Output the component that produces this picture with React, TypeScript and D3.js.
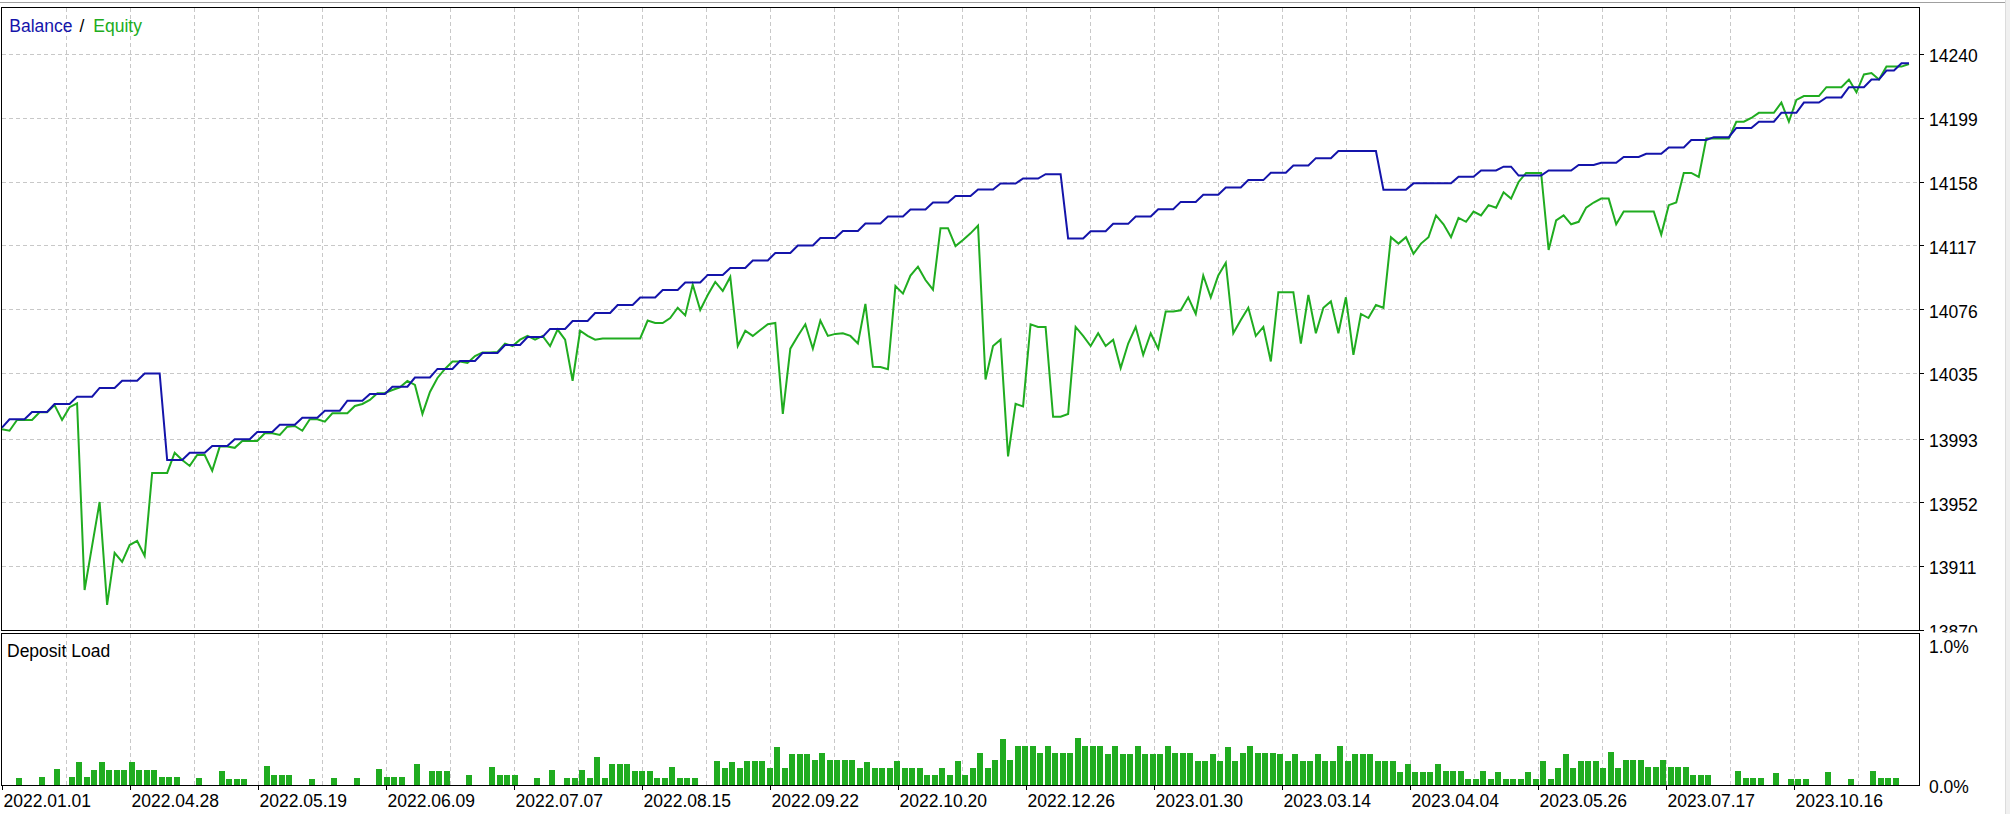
import React from 'react';
import * as d3 from 'd3';

// Balance per deal (account currency)
const balance: number[] = [
  14000, 14005.4, 14005.4, 14005.4, 14010, 14010, 14010, 14015.2, 14015.2, 14015.2,
  14019.9, 14019.9, 14019.9, 14025.5, 14025.5, 14025.5, 14030.1, 14030.1, 14030.1, 14034.8,
  14034.8, 14034.8, 13979.2, 13979.2, 13979.2, 13983.9, 13983.9, 13983.9, 13988.2, 13988.2,
  13988.2, 13992.5, 13992.5, 13992.5, 13997.2, 13997.2, 13997.2, 14001.9, 14001.9, 14001.9,
  14006.4, 14006.4, 14006.4, 14010.9, 14010.9, 14010.9, 14017.3, 14017.3, 14017.3, 14021.6,
  14021.6, 14021.6, 14026.3, 14026.3, 14026.3, 14032.2, 14032.2, 14032.2, 14037.7, 14037.7,
  14037.7, 14042.8, 14042.8, 14042.8, 14047.9, 14047.9, 14047.9, 14053.1, 14053.1, 14053.1,
  14058.2, 14058.2, 14058.2, 14063.4, 14063.4, 14063.4, 14068.5, 14068.5, 14068.5, 14073.6,
  14073.6, 14073.6, 14078.8, 14078.8, 14078.8, 14083.6, 14083.6, 14083.6, 14088.4, 14088.4,
  14088.4, 14093.2, 14093.2, 14093.2, 14098.1, 14098.1, 14098.1, 14102.5, 14102.5, 14102.5,
  14107.4, 14107.4, 14107.4, 14112.2, 14112.2, 14112.2, 14117, 14117, 14117, 14121.8,
  14121.8, 14121.8, 14126.3, 14126.3, 14126.3, 14131.1, 14131.1, 14131.1, 14135.6, 14135.6,
  14135.6, 14140.1, 14140.1, 14140.1, 14144.6, 14144.6, 14144.6, 14148.8, 14148.8, 14148.8,
  14153, 14153, 14153, 14156.8, 14156.8, 14156.8, 14160, 14160, 14160, 14162.8,
  14162.8, 14162.8, 14121.5, 14121.5, 14121.5, 14126.2, 14126.2, 14126.2, 14130.9, 14130.9,
  14130.9, 14135.6, 14135.6, 14135.6, 14140.3, 14140.3, 14140.3, 14145, 14145, 14145,
  14149.6, 14149.6, 14149.6, 14154.3, 14154.3, 14154.3, 14159, 14159, 14159, 14163.7,
  14163.7, 14163.7, 14168.4, 14168.4, 14168.4, 14173.1, 14173.1, 14173.1, 14177.7, 14177.7,
  14177.7, 14177.7, 14177.7, 14177.7, 14152.8, 14152.8, 14152.8, 14152.8, 14156.9, 14156.9,
  14156.9, 14156.9, 14156.9, 14156.9, 14161.1, 14161.1, 14161.1, 14165.2, 14165.2, 14165.2,
  14167.6, 14167.6, 14161.9, 14161.9, 14161.9, 14161.9, 14165.2, 14165.2, 14165.2, 14165.2,
  14168.7, 14168.7, 14168.7, 14170.1, 14170.1, 14170.1, 14173.9, 14173.9, 14173.9, 14175.9,
  14175.9, 14175.9, 14180, 14180, 14180, 14184.8, 14184.8, 14184.8, 14186.6, 14186.6,
  14186.6, 14192.5, 14192.5, 14192.5, 14196.5, 14196.5, 14196.5, 14202.2, 14202.2, 14202.2,
  14208.8, 14208.8, 14208.8, 14212.1, 14212.1, 14212.1, 14218.7, 14218.7, 14218.7, 14223.6,
  14223.6, 14229.4, 14229.4, 14234, 14234,
];

// Equity per deal
const equity: number[] = [
  13998.9, 13998.0, 14004.9, 14004.9, 14004.9, 14009.8, 14009.8, 14014.5, 14004.9, 14013.1,
  14015.6, 13895.7, 13924.0, 13952.2, 13886.1, 13919.5, 13913.7, 13924.6, 13927.2, 13917.6,
  13970.9, 13970.9, 13970.9, 13983.9, 13979.2, 13975.4, 13982.4, 13982.4, 13972.3, 13987.8,
  13987.8, 13987.0, 13991.4, 13991.4, 13991.4, 13996.4, 13996.4, 13995.3, 14000.6, 14001.1,
  13998.0, 14005.4, 14005.4, 14003.8, 14009.2, 14009.2, 14009.2, 14013.9, 14015.2, 14017.8,
  14022.1, 14022.3, 14024.2, 14025.9, 14030.0, 14027.4, 14008.8, 14022.9, 14031.9, 14037.7,
  14042.5, 14042.5, 14041.5, 14046.0, 14048.3, 14048.3, 14048.6, 14054.0, 14052.4, 14056.5,
  14058.9, 14056.5, 14058.9, 14052.4, 14063.0, 14056.5, 14030.1, 14062.2, 14058.9, 14056.5,
  14057.3, 14057.3, 14057.3, 14057.3, 14057.3, 14057.3, 14068.8, 14067.2, 14067.2, 14070.4,
  14077.0, 14072.1, 14091.9, 14075.6, 14085.2, 14093.6, 14087.8, 14096.8, 14052.4, 14062.2,
  14058.9, 14062.7, 14066.4, 14067.2, 14008.8, 14050.7, 14058.9, 14066.4, 14050.7, 14068.8,
  14058.9, 14060.2, 14060.6, 14058.9, 14054.0, 14079.5, 14039.1, 14038.9, 14037.5, 14091.0,
  14086.1, 14097.7, 14103.4, 14094.8, 14088.6, 14128.1, 14128.1, 14116.6, 14120.5, 14124.8,
  14129.8, 14030.9, 14052.4, 14056.5, 13981.5, 14015.3, 14013.6, 14066.4, 14064.7, 14064.7,
  14007.0, 14007.0, 14008.8, 14064.7, 14058.9, 14052.4, 14060.6, 14052.4, 14056.5, 14038.3,
  14054.0, 14064.7, 14046.7, 14060.6, 14050.7, 14074.6, 14074.6, 14075.4, 14083.7, 14073.0,
  14097.7, 14083.7, 14097.7, 14105.9, 14060.6, 14069.1, 14077.0, 14058.9, 14064.7, 14042.5,
  14087.0, 14087.0, 14087.0, 14054.0, 14085.3, 14060.6, 14077.0, 14081.1, 14060.6, 14083.7,
  14046.7, 14073.0, 14070.4, 14078.8, 14077.0, 14122.3, 14118.2, 14122.3, 14111.7, 14118.2,
  14122.3, 14136.3, 14130.6, 14122.3, 14134.7, 14132.2, 14138.8, 14136.3, 14142.9, 14141.3,
  14151.2, 14147.1, 14157.8, 14163.6, 14163.6, 14163.6, 14114.1, 14133.1, 14136.3, 14130.6,
  14132.2, 14141.3, 14144.6, 14147.1, 14147.1, 14130.6, 14138.8, 14138.8, 14138.8, 14138.8,
  14138.8, 14124.0, 14142.9, 14144.6, 14163.6, 14163.6, 14161.0, 14185.7, 14185.7, 14185.7,
  14185.7, 14196.5, 14196.5, 14198.9, 14202.2, 14202.2, 14202.2, 14208.8, 14196.5, 14210.5,
  14213.0, 14213.0, 14213.0, 14218.7, 14218.7, 14218.7, 14223.6, 14215.4, 14226.9, 14227.8,
  14223.6, 14231.9, 14231.9, 14231.9, 14233.6,
];

// Deposit load per deal, percent
const depositLoad: number[] = [
  0, 0, 0.05, 0, 0, 0.056, 0, 0.11, 0, 0.056,
  0.157, 0.056, 0.101, 0.157, 0.101, 0.101, 0.101, 0.157, 0.101, 0.101,
  0.101, 0.056, 0.056, 0.056, 0, 0, 0.05, 0, 0, 0.095,
  0.043, 0.043, 0.043, 0, 0, 0.13, 0.068, 0.068, 0.068, 0,
  0, 0.043, 0, 0, 0.05, 0, 0, 0.05, 0, 0,
  0.11, 0.056, 0.056, 0.056, 0, 0.144, 0, 0.095, 0.095, 0.095,
  0, 0, 0.068, 0, 0, 0.122, 0.068, 0.068, 0.068, 0,
  0, 0.05, 0, 0.101, 0, 0.05, 0.05, 0.101, 0.05, 0.191,
  0.05, 0.144, 0.144, 0.144, 0.095, 0.095, 0.095, 0.05, 0.05, 0.122,
  0.05, 0.05, 0.05, 0, 0, 0.162, 0.117, 0.155, 0.117, 0.162,
  0.162, 0.162, 0.117, 0.257, 0.117, 0.209, 0.209, 0.209, 0.169, 0.216,
  0.169, 0.169, 0.169, 0.169, 0.117, 0.155, 0.117, 0.117, 0.117, 0.162,
  0.117, 0.117, 0.117, 0.068, 0.068, 0.117, 0.068, 0.162, 0.068, 0.117,
  0.216, 0.117, 0.169, 0.311, 0.169, 0.264, 0.264, 0.264, 0.216, 0.264,
  0.216, 0.216, 0.216, 0.318, 0.264, 0.264, 0.264, 0.209, 0.264, 0.209,
  0.209, 0.264, 0.209, 0.209, 0.209, 0.264, 0.216, 0.216, 0.216, 0.162,
  0.162, 0.209, 0.162, 0.257, 0.162, 0.216, 0.264, 0.216, 0.216, 0.216,
  0.209, 0.162, 0.209, 0.162, 0.162, 0.209, 0.162, 0.162, 0.264, 0.162,
  0.209, 0.209, 0.209, 0.162, 0.162, 0.162, 0.09, 0.142, 0.088, 0.088,
  0.088, 0.142, 0.095, 0.095, 0.095, 0.04, 0.04, 0.095, 0.04, 0.088,
  0.04, 0.04, 0.04, 0.088, 0.04, 0.162, 0.04, 0.115, 0.209, 0.115,
  0.162, 0.162, 0.162, 0.115, 0.223, 0.115, 0.169, 0.169, 0.169, 0.122,
  0.122, 0.169, 0.122, 0.122, 0.122, 0.068, 0.068, 0.068, 0, 0,
  0, 0.095, 0.047, 0.047, 0.047, 0, 0.081, 0, 0.04, 0.04,
  0.04, 0, 0, 0.088, 0, 0, 0.04, 0, 0, 0.095,
  0.047, 0.047, 0.047, 0, 0,
];

const priceTicks: number[] = [14240, 14199, 14158, 14117, 14076, 14035, 13993, 13952, 13911, 13870];
const dateLabels: string[] = [
  '2022.01.01', '2022.04.28', '2022.05.19', '2022.06.09', '2022.07.07', '2022.08.15',
  '2022.09.22', '2022.10.20', '2022.12.26', '2023.01.30', '2023.03.14', '2023.04.04',
  '2023.05.26', '2023.07.17', '2023.10.16',
];
const loadTicks: { v: number; label: string }[] = [
  { v: 1, label: '1.0%' },
  { v: 0, label: '0.0%' },
];

const FONT = '"Liberation Sans", Arial, sans-serif';
const FS = 17.5;
const BLUE = '#1414aa';
const GREEN = '#20ac20';
const GRID = '#c8c8c8';

export default function App() {
  const W = 2010;
  const H = 814;
  const left = 1.5;
  const right = 1919.5;
  const mainTop = 7.5;
  const mainBottom = 630.5;
  const loadTop = 633.5;
  const loadBottom = 785.5;

  const n = balance.length;
  const x = d3.scaleLinear().domain([0, n - 1]).range([2, 1909]);
  const y = d3.scaleLinear().domain([13870, 14240]).range([630, 54]);
  const yLoad = d3.scaleLinear().domain([0, 1]).range([785, 637]);
  const grid = d3.scaleLinear().domain([0, 30]).range([2, 1922]);
  const gridIdx = d3.range(1, 30);

  const line = d3
    .line<number>()
    .x((_, i) => x(i))
    .y((d) => y(d));

  return (
    <svg
      width={W}
      height={H}
      style={{ position: 'absolute', left: 0, top: 0, display: 'block', background: '#ffffff' }}
      fontFamily={FONT}
    >
      <defs>
        <clipPath id="mainClip">
          <rect x={left} y={mainTop} width={right - left} height={mainBottom - mainTop} />
        </clipPath>
        <clipPath id="axisClip">
          <rect x={right} y={0} width={2005 - right} height={632.5} />
        </clipPath>
      </defs>
      <rect x={0} y={0} width={W} height={H} fill="#ffffff" />
      {/* window frame */}
      <line x1={0} x2={2005} y1={2.5} y2={2.5} stroke="#a0a0a0" strokeWidth={1} />
      <rect x={2005} y={0} width={5} height={H} fill="#f0f0f0" />
      <line x1={2005.5} x2={2005.5} y1={0} y2={H} stroke="#dcdcdc" strokeWidth={1} />

      {/* main grid */}
      <g shapeRendering="crispEdges" stroke={GRID} strokeWidth={1} strokeDasharray="4,3">
        {priceTicks.map((t) => (
          <line key={'h' + t} x1={left} x2={right} y1={Math.round(y(t)) + 0.5} y2={Math.round(y(t)) + 0.5} />
        ))}
        {gridIdx.map((j) => (
          <line key={'vm' + j} x1={Math.round(grid(j)) + 0.5} x2={Math.round(grid(j)) + 0.5} y1={mainTop} y2={mainBottom} />
        ))}
        {gridIdx.map((j) => (
          <line key={'vl' + j} x1={Math.round(grid(j)) + 0.5} x2={Math.round(grid(j)) + 0.5} y1={loadTop} y2={loadBottom} />
        ))}
      </g>

      {/* lines */}
      <g clipPath="url(#mainClip)" fill="none" strokeWidth={2} strokeLinejoin="miter">
        <path d={line(equity) || ''} stroke={GREEN} />
        <path d={line(balance) || ''} stroke={BLUE} />
      </g>

      {/* deposit load bars */}
      <g fill={GREEN} shapeRendering="crispEdges">
        {depositLoad.map((v, i) =>
          v > 0 ? (
            <rect key={'b' + i} x={Math.round(x(i)) - 1} y={yLoad(v)} width={6} height={yLoad(0) - yLoad(v)} />
          ) : null
        )}
      </g>

      {/* panel borders */}
      <g fill="none" stroke="#000" strokeWidth={1} shapeRendering="crispEdges">
        <rect x={left} y={mainTop} width={right - left} height={mainBottom - mainTop} />
        <rect x={left} y={loadTop} width={right - left} height={loadBottom - loadTop} />
      </g>

      {/* titles */}
      <text y={31.5} fontSize={FS}>
        <tspan x={9.3} fill={BLUE}>Balance</tspan>
        <tspan x={79.5} fill="#000">/</tspan>
        <tspan x={93.3} fill={GREEN}>Equity</tspan>
      </text>
      <text x={7} y={656.5} fontSize={FS} fill="#000">
        Deposit Load
      </text>

      {/* price axis */}
      <g clipPath="url(#axisClip)">
        {priceTicks.map((t) => (
          <g key={'pt' + t}>
            <line x1={right} x2={right + 4} y1={Math.round(y(t)) + 0.5} y2={Math.round(y(t)) + 0.5} stroke="#000" shapeRendering="crispEdges" />
            <text x={1929} y={y(t) + 8.3} fontSize={FS} fill="#000">
              {t}
            </text>
          </g>
        ))}
      </g>

      {/* load axis */}
      {loadTicks.map((t) => (
        <text key={t.label} x={1929} y={t.v === 1 ? 652.7 : 793} fontSize={FS} fill="#000">
          {t.label}
        </text>
      ))}

      {/* date axis */}
      {dateLabels.map((d, i) => (
        <g key={d}>
          <line
            x1={Math.round(grid(i * 2)) + 0.5}
            x2={Math.round(grid(i * 2)) + 0.5}
            y1={loadBottom}
            y2={loadBottom + 4}
            stroke="#000"
            shapeRendering="crispEdges"
          />
          <text x={grid(i * 2) + 1.5} y={807} fontSize={FS} fill="#000">
            {d}
          </text>
        </g>
      ))}
    </svg>
  );
}
